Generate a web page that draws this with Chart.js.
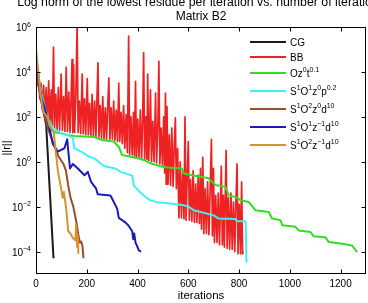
<!DOCTYPE html>
<html>
<head>
<meta charset="utf-8">
<script src="https://cdn.jsdelivr.net/npm/chart.js@4.4.0/dist/chart.umd.min.js"></script>
<style>
html, body { margin: 0; padding: 0; background: #fff; }
canvas { display: block; }
</style>
</head>
<body>
<canvas id="myChart" width="368" height="303"></canvas>
<script>
// axis ticks
var xTicks = [0, 200, 400, 600, 800, 1000, 1200];
var yTickExp = [-4, -2, 0, 2, 4, 6];

// series names (^{..} = superscript)
var seriesNames = ['CG', 'BB', 'Oz^{0}t^{0.1}', 'S^{1}O^{1}z^{0}p^{0.2}', 'S^{1}O^{2}z^{0}d^{10}', 'S^{1}O^{1}z^{\u22121}d^{10}', 'S^{1}O^{2}z^{\u22121}d^{10}'];
var seriesColors = ['#1a1a1a', '#ee2222', '#33dd22', '#3ff0f8', '#9a4f2c', '#1c1cb4', '#d8922e'];

// residues, read as log10(||r||) per iteration
var cgIter = [0, 10, 20, 30, 40, 48, 55, 62, 69];
var cgLog = [4.3, 3.4, 2.8, 2.2, 1.64, 0.0, -1.43, -2.87, -4.3];

var bbIter = [0, 5, 10, 15, 20, 25, 30, 35, 40, 45,
  50, 55, 60, 64, 69, 73, 78, 83, 88, 93,
  99, 104, 109, 114, 119, 124, 129, 134, 138, 142,
  145, 148, 152, 157, 162, 166, 171, 176, 182, 186,
  191, 196, 202, 206, 211, 216, 221, 226, 231, 236,
  244, 248, 253, 258, 263, 268, 273, 278, 283, 287,
  291, 296, 301, 306, 311, 316, 321, 326, 330, 335,
  340, 345, 350, 355, 360, 365, 369, 374, 379, 384,
  388, 392, 396, 401, 406, 411, 416, 420, 424, 428,
  433, 437, 440, 444, 448, 451, 455, 460, 465, 471,
  475, 480, 484, 488, 493, 498, 503, 507, 510, 513,
  516, 520, 525, 530, 535, 540, 545, 549, 553, 558,
  563, 568, 573, 578, 583, 587, 591, 596, 600, 604,
  609, 614, 619, 624, 629, 634, 639, 644, 648, 652,
  657, 661, 666, 671, 676, 681, 686, 691, 695, 699,
  703, 708, 713, 718, 723, 730, 734, 738, 742, 749,
  753, 758, 763, 768, 773, 778, 783, 788, 792, 796,
  801, 806, 810, 814, 817];
var bbLog = [4.2, 3.4, 3.9, 2.8, 3.5, 2.3, 3.4, 1.9, 3.3, 1.7,
  3.6, 1.6, 3.2, 1.5, 5.1, 1.5, 3.0, 1.4, 3.3, 1.4,
  3.9, 1.4, 2.9, 1.35, 4.2, 1.35, 3.1, 1.3, 2.8, 4.55,
  1.3, 4.33, 1.3, 2.9, 6.1, 1.3, 2.7, 1.25, 3.9, 1.25,
  2.8, 1.2, 3.7, 1.2, 2.6, 1.15, 3.0, 1.15, 2.7, 1.1,
  4.4, 1.1, 2.5, 1.05, 2.9, 1.0, 2.4, 1.0, 2.6, 3.73,
  1.0, 2.4, 1.0, 2.7, 0.95, 2.3, 0.9, 3.5, 0.9, 2.2,
  0.8, 2.5, 0.6, 2.1, 0.4, 5.6, 0.3, 2.0, 0.3, 2.2,
  0.25, 3.58, 0.2, 1.9, 0.2, 2.3, 0.15, 1.8, 4.85, 0.1,
  2.0, 0.1, 3.9, 0.05, 1.7, 3.2, 0.0, 1.8, 0.0, 3.06,
  -0.05, 1.6, 4.47, -0.1, 1.5, -0.15, 2.0, -0.5, 3.06, -1.0,
  2.46, -1.0, 1.2, -1.05, 1.5, -1.1, 0.8, 1.95, -1.2, 0.6,
  -2.5, 0.0, -2.5, -0.4, -2.55, 2.0, -2.6, -0.5, 0.9, -2.6,
  -0.8, -2.65, -0.4, -2.7, -1.0, -2.7, -0.6, -2.75, -0.3, -3.0,
  0.2, -3.2, -1.2, -3.2, -0.9, -3.25, -1.3, 1.0, -3.3, -0.3,
  -3.6, -1.5, -3.6, -1.4, -3.7, -0.2, -3.7, -1.5, -3.8, 0.5,
  -3.85, -1.6, -3.9, -1.4, -3.9, -1.8, -4.0, -1.6, -0.1, -4.1,
  -1.9, -4.1, -0.9, -4.1, -4.0];

var ozIter = [0, 10, 20, 33, 45, 57, 80, 110, 119, 150, 230, 257, 306, 326, 339, 372, 400, 424, 451, 497, 530, 575, 582, 615, 680, 707, 746, 759, 792, 805, 838, 864, 917, 930, 963, 970, 1022, 1035, 1081, 1094, 1140, 1153, 1206, 1245, 1265];
var ozLog = [4.6, 3.8, 3.0, 2.4, 1.8, 1.42, 1.3, 1.25, 1.2, 1.15, 1.1, 0.97, 0.9, 0.67, 0.3, 0.22, 0.15, 0.08, -0.07, -0.22, -0.27, -0.3, -0.52, -0.6, -0.74, -1.04, -1.12, -1.49, -1.6, -1.71, -1.79, -2.16, -2.24, -2.53, -2.6, -2.83, -2.9, -3.06, -3.13, -3.32, -3.36, -3.58, -3.65, -3.73, -4.03];

// S1O1z0p0.2 (cyan)
var cyanIter = [0, 10, 20, 33, 46, 66, 99, 125, 145, 151, 178, 210, 230, 257, 270, 313, 333, 379, 385, 405, 431, 451, 477, 530, 582, 600, 621, 700, 720, 785, 792, 826, 829];
var cyanLog = [4.6, 3.8, 3.1, 2.5, 1.95, 1.5, 1.27, 1.19, 1.05, 0.6, 0.45, 0.22, 0.15, -0.1, -0.2, -0.3, -0.45, -0.62, -1.05, -1.3, -1.57, -1.72, -1.8, -1.86, -1.94, -2.0, -2.16, -2.39, -2.53, -2.55, -2.65, -2.65, -4.5];

// S1O2z0d10 (brown)
var brownIter = [0, 10, 20, 32, 46, 68, 88, 108, 118, 126, 136, 147, 160, 166, 173, 178, 183, 187];
var brownLog = [4.7, 3.6, 2.7, 2.2, 1.5, 0.85, 0.25, -0.1, -0.4, -1.0, -1.6, -2.0, -2.75, -3.2, -3.6, -3.55, -3.75, -4.3];

// S1O1z-1d10 (blue)
var blueIter = [0, 12, 22, 34, 53, 66, 86, 112, 123, 127, 134, 145, 165, 191, 204, 217, 237, 243, 293, 300, 320, 326, 352, 365, 379, 383, 387, 392, 398, 405, 414];
var blueLog = [4.7, 3.5, 2.8, 2.4, 1.5, 0.8, 0.45, 0.6, 1.0, 0.5, -0.3, -0.1, -0.3, -0.6, -0.45, -0.9, -1.2, -1.45, -1.5, -1.65, -2.1, -2.5, -2.7, -2.85, -3.1, -3.45, -3.2, -3.6, -3.75, -3.95, -4.0];

// S1O2z-1d10 (orange)
var orangeIter = [0, 10, 18, 30, 44, 53, 70, 76, 86, 99, 105, 110, 119, 127, 136, 145, 155, 158, 162, 165, 167];
var orangeLog = [5.0, 3.9, 3.0, 2.2, 2.0, 1.6, 1.3, 0.65, -0.4, -1.2, -1.6, -1.35, -2.1, -3.1, -3.2, -3.4, -3.5, -2.8, -3.8, -3.3, -4.1];

var FONT = '"Liberation Sans", Arial, Helvetica, sans-serif';

function toPoints(iter, logs) {
  return iter.map(function (it, i) { return { x: it, y: Math.pow(10, logs[i]) }; });
}

// same order as seriesNames
var seriesData = [
  toPoints(cgIter, cgLog),
  toPoints(bbIter, bbLog),
  toPoints(ozIter, ozLog),
  toPoints(cyanIter, cyanLog),
  toPoints(brownIter, brownLog),
  toPoints(blueIter, blueLog),
  toPoints(orangeIter, orangeLog)
];
var seriesWidth = [2, 1.7, 2, 2, 2, 2, 2];

var datasets = seriesData.map(function (d, i) {
  return {
    label: seriesNames[i],
    data: d,
    borderColor: seriesColors[i],
    borderWidth: seriesWidth[i],
    pointRadius: 0,
    tension: 0,
    fill: false,
    borderJoinStyle: 'round',
    order: seriesData.length - i
  };
});

// text with ^{..} superscripts
function parseRich(str) {
  var parts = [], re = /\^\{([^}]*)\}/g, last = 0, m;
  while ((m = re.exec(str)) !== null) {
    if (m.index > last) parts.push({ t: str.slice(last, m.index), sup: false });
    parts.push({ t: m[1], sup: true });
    last = re.lastIndex;
  }
  if (last < str.length) parts.push({ t: str.slice(last), sup: false });
  return parts;
}
function drawRich(ctx, str, x, y, size, align) {
  var parts = parseRich(str), supSize = Math.round(size * 0.7), w = 0;
  parts.forEach(function (p) {
    ctx.font = (p.sup ? supSize : size) + 'px ' + FONT;
    p.w = ctx.measureText(p.t).width;
    w += p.w;
  });
  var cx = align === 'right' ? x - w : (align === 'center' ? x - w / 2 : x);
  ctx.textAlign = 'left';
  ctx.textBaseline = 'alphabetic';
  parts.forEach(function (p) {
    ctx.font = (p.sup ? supSize : size) + 'px ' + FONT;
    ctx.fillText(p.t, cx, p.sup ? y - size * 0.45 : y);
    cx += p.w;
  });
}

// frame, ticks, labels, legend, title
var plotDecor = {
  id: 'plotDecor',
  afterDraw: function (chart) {
    var ctx = chart.ctx, a = chart.chartArea, xs = chart.scales.x, ys = chart.scales.y;
    var L = Math.round(a.left) + 0.5, R = Math.round(a.right) - 0.5, T = Math.round(a.top) + 0.5, B = Math.round(a.bottom) - 0.5;
    ctx.save();
    ctx.strokeStyle = '#000';
    ctx.lineWidth = 1;
    ctx.strokeRect(L, T, R - L, B - T);

    ctx.fillStyle = '#000';
    ctx.beginPath();
    xTicks.forEach(function (v) {
      var px = Math.round(xs.getPixelForValue(v)) + 0.5;
      ctx.moveTo(px, B); ctx.lineTo(px, B - 4);
      ctx.moveTo(px, T); ctx.lineTo(px, T + 4);
    });
    yTickExp.forEach(function (e) {
      var py = Math.round(ys.getPixelForValue(Math.pow(10, e))) + 0.5;
      ctx.moveTo(L, py); ctx.lineTo(L + 4, py);
      ctx.moveTo(R, py); ctx.lineTo(R - 4, py);
    });
    ctx.stroke();

    ctx.font = '10px ' + FONT;
    ctx.textAlign = 'center';
    ctx.textBaseline = 'alphabetic';
    xTicks.forEach(function (v) {
      ctx.fillText(String(v), xs.getPixelForValue(v), a.bottom + 13);
    });
    yTickExp.forEach(function (e) {
      var py = ys.getPixelForValue(Math.pow(10, e));
      drawRich(ctx, '10^{' + String(e).replace('-', '\u2212') + '}', a.left - 5, py + 4, 10, 'right');
    });

    // axis titles
    ctx.font = '11.5px ' + FONT;
    ctx.textAlign = 'center';
    ctx.fillText('iterations', (a.left + a.right) / 2, 299);
    ctx.save();
    ctx.translate(10, 148);
    ctx.rotate(-Math.PI / 2);
    ctx.font = '11px ' + FONT;
    ctx.fillText('||r||', 0, 0);
    ctx.restore();

    // title
    ctx.font = '12.3px ' + FONT;
    ctx.textAlign = 'center';
    ctx.fillText('Log norm of the lowest residue per iteration vs. number of iterations', (a.left + a.right) / 2, 6);
    ctx.font = '12px ' + FONT;
    ctx.fillText('Matrix B2', (a.left + a.right) / 2, 19.5);

    // legend
    var legY = [42, 57, 73, 91, 109, 127, 145];
    seriesNames.forEach(function (name, i) {
      ctx.strokeStyle = seriesColors[i];
      ctx.lineWidth = 2;
      ctx.beginPath();
      ctx.moveTo(250, legY[i]);
      ctx.lineTo(286, legY[i]);
      ctx.stroke();
      ctx.fillStyle = '#000';
      drawRich(ctx, name, 290, legY[i] + 3.5, 10, 'left');
    });
    ctx.restore();
  }
};

var canvas = document.getElementById('myChart');
var myChart = new Chart(canvas, {
  type: 'line',
  data: { datasets: datasets },
  options: {
    responsive: false,
    animation: false,
    devicePixelRatio: 1,
    layout: { padding: { top: 27, right: 2, left: 0, bottom: 0 } },
    plugins: { legend: { display: false }, title: { display: false }, tooltip: { enabled: false } },
    scales: {
      x: {
        type: 'linear', min: 0, max: 1300,
        grid: { display: false }, border: { display: false }, ticks: { display: false },
        afterFit: function (s) { s.height = 29; }
      },
      y: {
        type: 'logarithmic', min: 1e-5, max: 1e6,
        grid: { display: false }, border: { display: false }, ticks: { display: false },
        afterFit: function (s) { s.width = 36; }
      }
    }
  },
  plugins: [plotDecor]
});
</script>
</body>
</html>
